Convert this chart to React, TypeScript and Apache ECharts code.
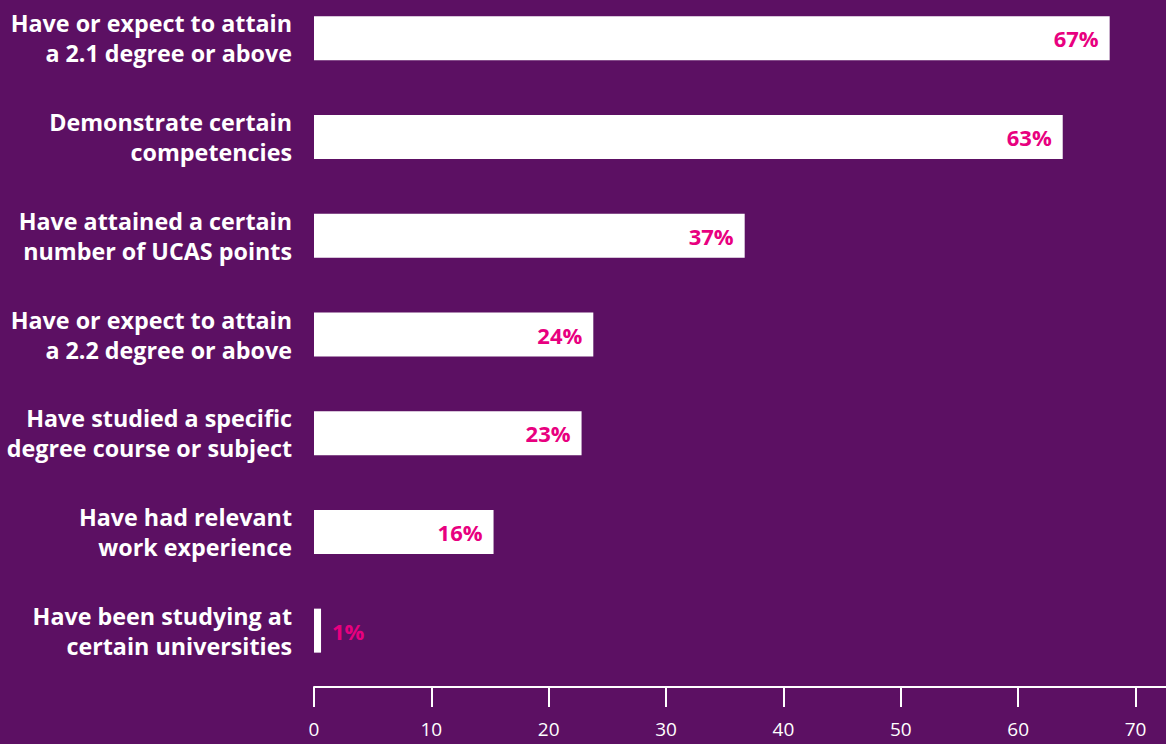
import React, { useEffect, useRef } from "react";
import * as echarts from "echarts";

const categories = [
  "Have or expect to attain\na 2.1 degree or above",
  "Demonstrate certain\ncompetencies",
  "Have attained a certain\nnumber of UCAS points",
  "Have or expect to attain\na 2.2 degree or above",
  "Have studied a specific\ndegree course or subject",
  "Have had relevant\nwork experience",
  "Have been studying at\ncertain universities",
];
const barValues = [67.8, 63.8, 36.7, 23.8, 22.8, 15.3, 0.6];
const labelTexts = ["67%", "63%", "37%", "24%", "23%", "16%", "1%"];
const tickValues = [0, 10, 20, 30, 40, 50, 60, 70];

const BG = "#5c1063";
const PINK = "#e8007f";
const FONT = "'Open Sans', sans-serif";

export default function App() {
  const ref = useRef<HTMLDivElement>(null);
  useEffect(() => {
    document.body.style.margin = "0";
    const chart = echarts.init(ref.current!, null, { renderer: "svg" });
    chart.setOption({
      animation: false,
      backgroundColor: BG,
      grid: {
        left: 314,
        right: 0,
        top: -11,
        bottom: 64,
        containLabel: false,
        outerBoundsMode: "none",
      },
      xAxis: {
        type: "value",
        min: 0,
        max: 72.6,
        offset: 7,
        splitLine: { show: false },
        axisLine: { show: true, lineStyle: { color: "#ffffff", width: 2 } },
        axisTick: {
          show: true,
          customValues: tickValues,
          length: 20,
          inside: false,
          lineStyle: { color: "#ffffff", width: 2 },
        },
        axisLabel: {
          customValues: tickValues,
          color: "#ffffff",
          fontFamily: FONT,
          fontSize: 19,
          margin: 32,
        },
      },
      yAxis: {
        type: "category",
        inverse: true,
        data: categories,
        axisLine: { show: false },
        axisTick: { show: false },
        axisLabel: {
          color: "#ffffff",
          fontFamily: FONT,
          fontWeight: "bold",
          fontSize: 23.3,
          lineHeight: 30,
          margin: 22,
          align: "right",
        },
      },
      series: [
        {
          type: "bar",
          barWidth: 44,
          itemStyle: { color: "#ffffff" },
          data: barValues.map((v, i) => ({
            value: v,
            label: {
              show: true,
              position: v < 5 ? "right" : "insideRight",
              distance: 11,
              formatter: () => labelTexts[i],
              color: PINK,
              fontFamily: FONT,
              fontWeight: "bold",
              fontSize: 22,
            },
          })),
        },
      ],
    });
    return () => chart.dispose();
  }, []);
  return (
    <div
      ref={ref}
      style={{ position: "fixed", left: 0, top: 0, width: 1166, height: 744 }}
    />
  );
}
